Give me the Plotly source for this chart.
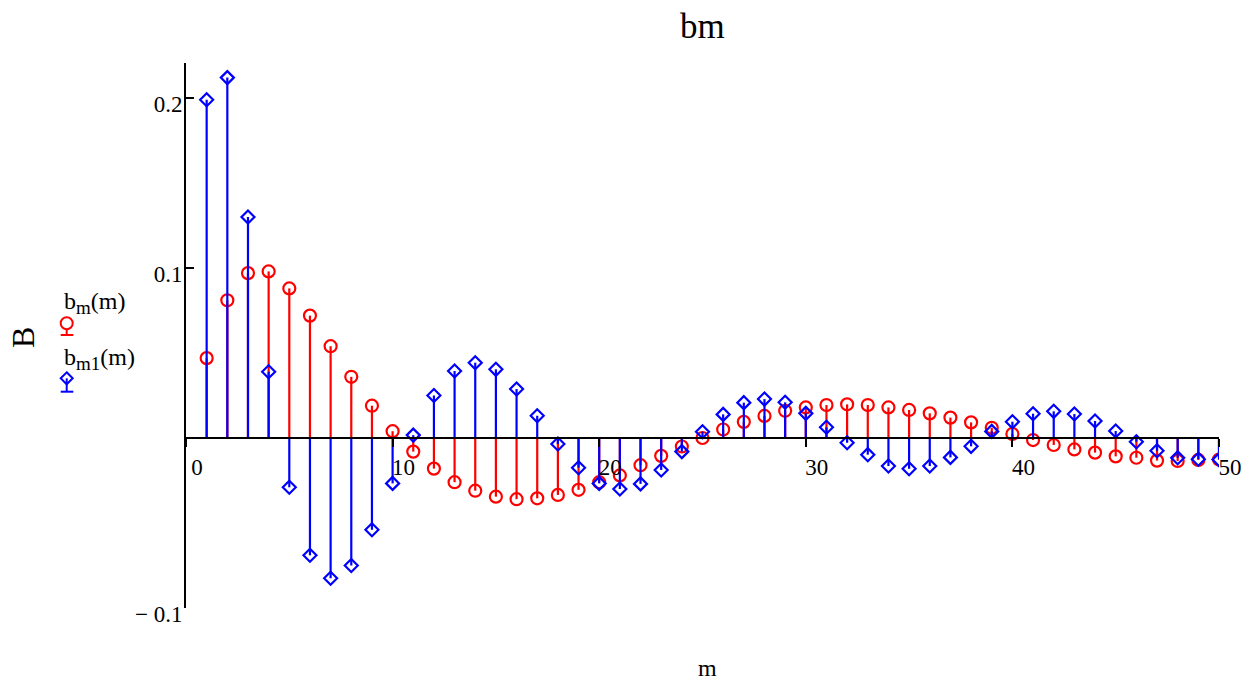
import plotly.graph_objects as go

# ---- data ----
m = list(range(1, 51))
bm = [0.047, 0.081, 0.097, 0.098, 0.088, 0.072, 0.054, 0.036, 0.019, 0.004,
      -0.008, -0.018, -0.026, -0.031, -0.0345, -0.036, -0.0355, -0.0335, -0.0305, -0.026,
      -0.022, -0.016, -0.0105, -0.005, 0.0, 0.005, 0.0095, 0.013, 0.016, 0.018,
      0.0194, 0.0198, 0.0194, 0.018, 0.0165, 0.0145, 0.012, 0.0092, 0.006, 0.0024,
      -0.0012, -0.0041, -0.0067, -0.0086, -0.0108, -0.0116, -0.0133, -0.0135, -0.0129, -0.0127]
bm1 = [0.199, 0.212, 0.130, 0.039, -0.029, -0.069, -0.0825, -0.075, -0.054, -0.0267,
       0.0017, 0.025, 0.0394, 0.0443, 0.0404, 0.0288, 0.0131, -0.0035, -0.0175, -0.0267,
       -0.030, -0.027, -0.0188, -0.008, 0.0037, 0.0139, 0.0208, 0.0229, 0.021, 0.0145,
       0.0063, -0.0028, -0.0098, -0.0165, -0.0181, -0.0165, -0.0114, -0.0049, 0.0039, 0.0096,
       0.0143, 0.0157, 0.0141, 0.0100, 0.0041, -0.0022, -0.0075, -0.0116, -0.0125, -0.0127]
x_ticks = [0, 10, 20, 30, 40, 50]
x_ticktext = ["0", "10", "20", "30", "40", "50"]
y_ticks = [-0.1, 0.1, 0.2]
y_ticktext = ["\u2212 0.1", "0.1", "0.2"]
series_names = ["b<sub><span style='font-size:19px'>m</span></sub>(m)",
                "b<sub><span style='font-size:19px'>m1</span></sub>(m)"]

# ---- layout geometry ----
W, H = 1243, 683
L, R, T, B = 186, 24, 63, 75
XR = [0, 50]
YR = [-0.1, 0.2206]
FONT = "Liberation Serif"
RED, BLUE = "#ff0000", "#0000ff"


def stems(xs, ys):
    sx, sy = [], []
    for xv, yv in zip(xs, ys):
        sx += [xv, xv, None]
        sy += [0, yv, None]
    return sx, sy


fig = go.Figure()
for ys, col, sym, size in [(bm, RED, "circle-open", 12), (bm1, BLUE, "diamond-open", 10)]:
    sx, sy = stems(m, ys)
    fig.add_trace(go.Scatter(x=sx, y=sy, mode="lines", line=dict(color=col, width=2.2),
                             hoverinfo="skip", showlegend=False))
    fig.add_trace(go.Scatter(x=m, y=ys, mode="markers",
                             marker=dict(symbol=sym, size=size, color=col, line=dict(width=2.2, color=col)),
                             showlegend=False))

pw, ph = W - L - R, H - T - B


def px(xpix):
    return (xpix - L) / pw


def py(ypix):
    return (H - B - ypix) / ph


zero_pos = (0 - YR[0]) / (YR[1] - YR[0])

fig.update_layout(
    width=W, height=H, margin=dict(l=L, r=R, t=T, b=B, autoexpand=False),
    plot_bgcolor="white", paper_bgcolor="white",
    font=dict(family=FONT, color="black", size=23),
    xaxis=dict(range=XR, anchor="free", position=zero_pos, showline=True, linecolor="black",
               linewidth=2, showgrid=False, zeroline=False, tickvals=x_ticks, ticktext=x_ticktext,
               ticks="outside", ticklen=8, tickwidth=2, tickcolor="black", automargin=False,
               tickfont=dict(family=FONT, size=23), ticklabelshift=11),
    yaxis=dict(range=YR, showline=True, linecolor="black", linewidth=2, showgrid=False,
               zeroline=False, tickvals=y_ticks, ticktext=y_ticktext, ticks="inside",
               ticklen=8, tickwidth=2, tickcolor="black", automargin=False,
               tickfont=dict(family=FONT, size=23), ticklabelshift=6, ticklabelstandoff=-3),
    showlegend=False,
)

ann = []
ann.append(dict(text="bm", x=0.5, y=py(26), xref="paper", yref="paper", showarrow=False,
                font=dict(family=FONT, size=35), xanchor="center", yanchor="middle"))
ann.append(dict(text="m", x=px(707), y=py(668), xref="paper", yref="paper", showarrow=False,
                font=dict(family=FONT, size=24), xanchor="center", yanchor="middle"))
ann.append(dict(text="B", x=px(23), y=py(338), xref="paper", yref="paper", showarrow=False,
                font=dict(family=FONT, size=32), textangle=-90, xanchor="center", yanchor="middle"))
ann.append(dict(text=series_names[0], x=px(62), y=py(303), xref="paper", yref="paper",
                showarrow=False, font=dict(family=FONT, size=24), xanchor="left", yanchor="middle"))
ann.append(dict(text=series_names[1], x=px(62), y=py(359), xref="paper", yref="paper",
                showarrow=False, font=dict(family=FONT, size=24), xanchor="left", yanchor="middle"))
fig.update_layout(annotations=ann)

# legend symbols (decoration)
shapes = []
cx = 66.7
cy = 323.3
shapes.append(dict(type="circle", xref="paper", yref="paper", x0=px(cx - 6), x1=px(cx + 6),
                   y0=py(cy + 6), y1=py(cy - 6), line=dict(color=RED, width=2)))
shapes.append(dict(type="line", xref="paper", yref="paper", x0=px(cx), x1=px(cx),
                   y0=py(cy + 6), y1=py(335), line=dict(color=RED, width=2)))
shapes.append(dict(type="line", xref="paper", yref="paper", x0=px(60.7), x1=px(73.3),
                   y0=py(335), y1=py(335), line=dict(color=RED, width=2)))
cy = 378.3
d = 6
path = "M {a},{b} L {c},{e} L {a},{f} L {g},{e} Z".format(
    a=px(cx), b=py(cy - d), c=px(cx + d), e=py(cy), f=py(cy + d), g=px(cx - d))
shapes.append(dict(type="path", xref="paper", yref="paper", path=path, line=dict(color=BLUE, width=2)))
shapes.append(dict(type="line", xref="paper", yref="paper", x0=px(cx), x1=px(cx),
                   y0=py(cy), y1=py(391.7), line=dict(color=BLUE, width=2)))
shapes.append(dict(type="line", xref="paper", yref="paper", x0=px(60.7), x1=px(73.3),
                   y0=py(391.7), y1=py(391.7), line=dict(color=BLUE, width=2)))
fig.update_layout(shapes=shapes)

fig.write_html("out.html")
